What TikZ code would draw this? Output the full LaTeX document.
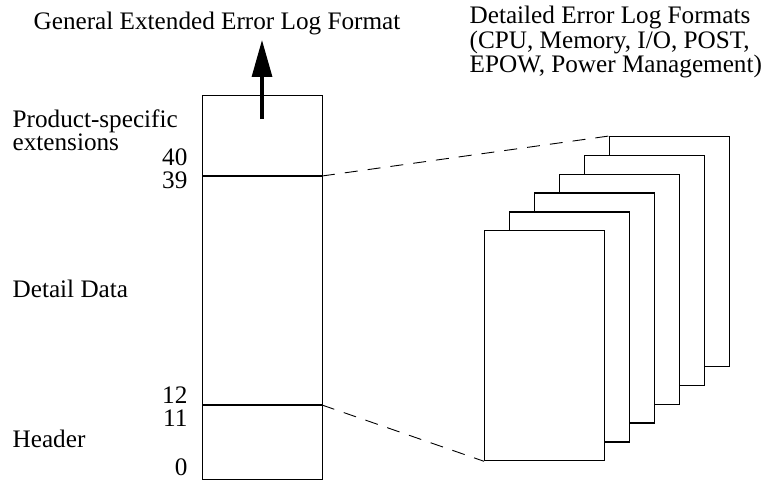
\documentclass[tikz,border=0pt]{standalone}
\usepackage{fontspec}
\setmainfont{Liberation Serif}
\usetikzlibrary{arrows.meta}

\begin{document}
\begin{tikzpicture}[x=0.5pt,y=-0.5pt,line width=0.65pt,font=\fontsize{12.6}{11.3}\selectfont]
\tikzstyle{lbl}=[inner sep=0pt,anchor=base west]
\tikzstyle{num}=[inner sep=0pt,anchor=base east]
\tikzstyle{record}=[draw,inner sep=0pt,anchor=north west,minimum width=60pt,minimum height=192pt]
\tikzstyle{page}=[draw,fill=white,inner sep=0pt,anchor=north west,minimum width=60pt,minimum height=115pt]
\tikzstyle{dashline}=[line width=0.45pt,dash pattern=on 6.5pt off 5pt]
\useasboundingbox (0,0) rectangle (764,481);
\node[record] (log) at (202,95) {};
\coordinate (b39) at (322,176);
\coordinate (b12) at (322,405);
\draw (log.west |- b39) -- (b39);
\draw (log.west |- b12) -- (b12);
\coordinate (tail) at (262,119);
\coordinate (up) at (262,40);
\draw[-{Triangle[length=18.5pt,width=10pt]},line width=1.6pt] (tail) -- (up);
\node[lbl] (title) at (33,30) {General Extended Error Log Format};
\node[lbl,align=left] (formats) at (469,73) {Detailed Error Log Formats\\(CPU, Memory, I/O, POST,\\EPOW, Power Management)};
\node[lbl,align=left] (prod) at (12,150) {Product-specific\\extensions};
\node[lbl] (detail) at (12,297) {Detail Data};
\node[lbl] (header) at (12,447) {Header};
\node[num] (n40) at (188,165) {40};
\node[num] (n39) at (188,188) {39};
\node[num] (n12) at (188,403) {12};
\node[num] (n11) at (188,426) {11};
\node[num] (n0) at (188,475) {0};
\foreach \i in {6,...,1}
  \node[page] (page\i) at ({484+25*(\i-1)},{230-18.8*(\i-1)}) {};
\draw[dashline] (b39) -- (page6.north west);
\draw[dashline] (b12) -- (page1.south west);
\end{tikzpicture}
\end{document}
